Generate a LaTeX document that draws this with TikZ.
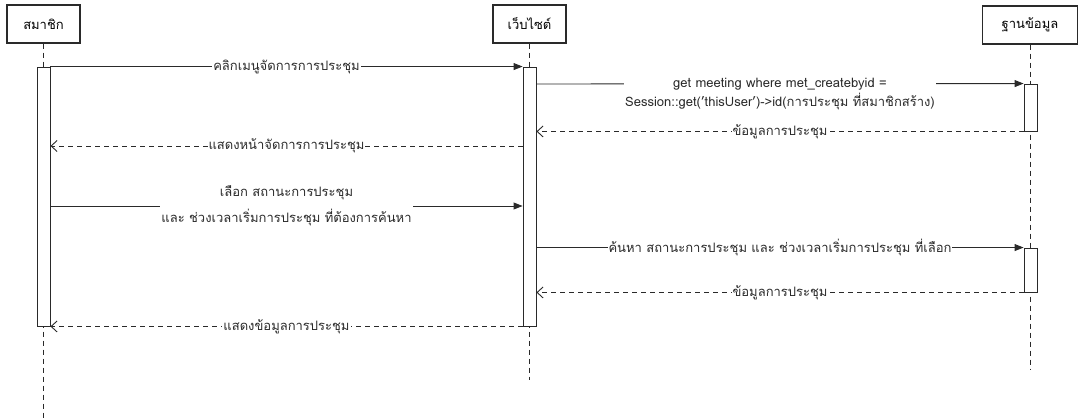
\documentclass[tikz,border=0pt]{standalone}
\usepackage{fontspec}
\setmainfont[Script=Thai]{Loma}
\usetikzlibrary{arrows.meta}
\definecolor{ink}{HTML}{2A2A2A}
\tikzset{
  actor/.style={draw=ink, line width=1.4pt, fill=white, minimum height=38pt, inner sep=2pt},
  bar/.style={draw=ink, line width=0.9pt, fill=white, minimum width=13pt, inner sep=0pt},
  life/.style={draw=ink, line width=0.9pt, dash pattern=on 5pt off 4pt},
  msg/.style={draw=ink, line width=0.9pt, -{Triangle[length=9pt,width=7pt]}},
  ret/.style={draw=ink, line width=0.9pt, dash pattern=on 5pt off 4pt, -{Straight Barb[length=6pt,width=11pt]}},
  lbl/.style={fill=white, inner sep=1pt, text=ink, align=center},
}
\begin{document}
\begin{tikzpicture}[x=1pt, y=-1pt, font=\fontsize{13}{16}\selectfont]
\useasboundingbox (0,0) rectangle (1089,420);
% actors
\node[actor, minimum width=73pt] (m) at (43.5,24) {สมาชิก};
\node[actor, minimum width=73pt] (w) at (529.5,24) {เว็บไซต์};
\node[actor, minimum width=95pt] (d) at (1030,25) {ฐานข้อมูล};
% lifeline ends
\coordinate (mend) at (43.5,420);
\coordinate (wend) at (529.5,380);
\coordinate (dend) at (1030,370);
\draw[life] (m.south) -- (mend);
\draw[life] (w.south) -- (wend);
\draw[life] (d.south) -- (dend);
% activation bars
\node[bar, minimum height=259pt] (mb) at (43.5,196.5) {};
\node[bar, minimum height=259pt] (wb) at (529.5,196.5) {};
\node[bar, minimum height=47pt] (db1) at (1030.5,107.5) {};
\node[bar, minimum height=44pt] (db2) at (1030.5,270) {};
% message levels
\coordinate (y2) at (0,84);
\coordinate (y4) at (0,146);
\coordinate (y5) at (0,206);
% messages
\draw[msg] (mb.north east) -- node[lbl] {คลิกเมนูจัดการการประชุม} (wb.north west);
\draw[msg] (wb.east |- y2) -- node[lbl, anchor=north, yshift=7pt] {get meeting where met\_createbyid =\\[2pt]Session::get('thisUser')->id(การประชุม ที่สมาชิกสร้าง)} (db1.north west);
\draw[ret] (db1.south west) -- node[lbl] {ข้อมูลการประชุม} (wb.east |- db1.south west);
\draw[ret] (wb.west |- y4) -- node[lbl] {แสดงหน้าจัดการการประชุม} (mb.east |- y4);
\draw[msg] (mb.east |- y5) -- node[lbl] {เลือก สถานะการประชุม\\[8pt]และ ช่วงเวลาเริ่มการประชุม ที่ต้องการค้นหา} (wb.west |- y5);
\draw[msg] (wb.east |- db2.north west) -- node[lbl] {ค้นหา สถานะการประชุม และ ช่วงเวลาเริ่มการประชุม ที่เลือก} (db2.north west);
\draw[ret] (db2.south west) -- node[lbl] {ข้อมูลการประชุม} (wb.east |- db2.south west);
\draw[ret] (wb.south west) -- node[lbl] {แสดงข้อมูลการประชุม} (mb.south east);
\end{tikzpicture}
\end{document}
